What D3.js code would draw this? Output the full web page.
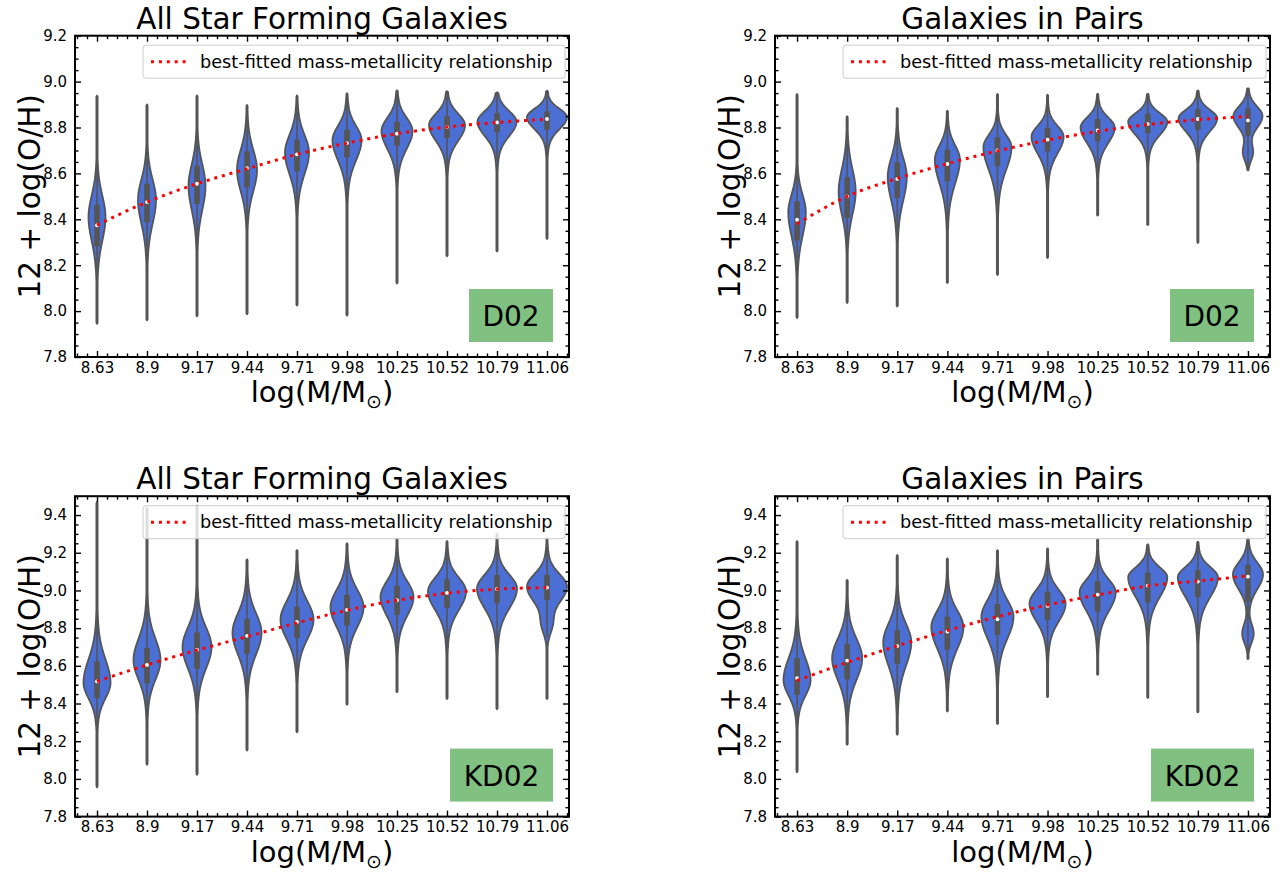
<!DOCTYPE html>
<html><head><meta charset="utf-8">
<script src="https://cdn.jsdelivr.net/npm/d3@7"></script>
<style>body{margin:0;background:#fff} text{font-family:"DejaVu Sans",sans-serif;fill:#000}</style>
</head><body><svg id="c" width="1284" height="875"></svg>
<script>
// ---------- data ----------
const categories = ["8.63","8.9","9.17","9.44","9.71","9.98","10.25","10.52","10.79","11.06"];
const yTicksD02 = [7.8,8.0,8.2,8.4,8.6,8.8,9.0,9.2];
const yTicksKD02 = [7.8,8.0,8.2,8.4,8.6,8.8,9.0,9.2,9.4];
const titles = ["All Star Forming Galaxies","Galaxies in Pairs","All Star Forming Galaxies","Galaxies in Pairs"];
const calibrations = ["D02","D02","KD02","KD02"];
const legendLabel = "best-fitted mass-metallicity relationship";

// Panel 1: D02, all star forming
const d02AllMin  = [7.945,7.96,7.977,7.986,8.024,7.98,8.12,8.239,8.26,8.314];
const d02AllMax  = [8.939,8.90,8.94,8.898,8.94,8.95,8.962,8.958,8.953,8.96];
const d02AllQ1   = [8.282,8.387,8.467,8.539,8.609,8.67,8.721,8.754,8.779,8.79];
const d02AllMed  = [8.374,8.475,8.555,8.623,8.683,8.732,8.773,8.802,8.822,8.837];
const d02AllQ3   = [8.464,8.555,8.634,8.696,8.747,8.79,8.824,8.849,8.863,8.87];
const d02AllPeak = [8.41,8.485,8.545,8.615,8.69,8.745,8.785,8.81,8.825,8.845];
const d02AllWid  = [0.17,0.18,0.17,0.2,0.24,0.29,0.31,0.36,0.39,0.4];
const d02AllSLo  = [0.1,0.1,0.1,0.09,0.09,0.085,0.075,0.065,0.06,0.05];
const d02AllSHi  = [0.09,0.085,0.09,0.085,0.075,0.06,0.055,0.048,0.045,0.035];
const d02AllFit  = [8.375,8.475,8.555,8.62,8.683,8.732,8.773,8.802,8.822,8.836];

// Panel 2: D02, pairs
const d02PairMin  = [7.97,8.035,8.02,8.122,8.157,8.231,8.416,8.375,8.297,8.613];
const d02PairMax  = [8.946,8.849,8.885,8.873,8.946,8.943,8.947,8.947,8.962,8.971];
const d02PairQ1   = [8.308,8.406,8.493,8.565,8.631,8.696,8.74,8.776,8.79,8.764];
const d02PairMed  = [8.398,8.5,8.576,8.641,8.7,8.747,8.787,8.815,8.837,8.831];
const d02PairQ3   = [8.478,8.583,8.648,8.703,8.757,8.798,8.837,8.86,8.88,8.883];
const d02PairPeak = [8.43,8.52,8.585,8.66,8.715,8.76,8.8,8.825,8.84,8.85];
const d02PairWid  = [0.175,0.17,0.19,0.25,0.28,0.32,0.34,0.39,0.385,0.29];
const d02PairSLo  = [0.1,0.095,0.1,0.1,0.095,0.07,0.065,0.055,0.055,0.05];
const d02PairSHi  = [0.075,0.095,0.08,0.06,0.05,0.045,0.042,0.036,0.036,0.04];
const d02PairPeak2 = [0,0,0,0,0,0,0,0,0,8.69];
const d02PairWid2  = [0,0,0,0,0,0,0,0,0,0.09];
const d02PairS2    = [0,0,0,0,0,0,0,0,0,0.035];
const d02PairFit  = [8.38,8.5,8.578,8.642,8.698,8.745,8.783,8.813,8.834,8.848];

// Panel 3: KD02, all star forming
const kd02AllMin  = [7.955,8.075,8.022,8.151,8.247,8.393,8.46,8.424,8.37,8.424];
const kd02AllMax  = [9.47,9.44,9.45,9.165,9.214,9.25,9.276,9.262,9.303,9.28];
const kd02AllQ1   = [8.429,8.508,8.584,8.664,8.747,8.814,8.87,8.909,8.932,8.95];
const kd02AllMed  = [8.517,8.605,8.685,8.759,8.833,8.897,8.948,8.987,9.008,9.015];
const kd02AllQ3   = [8.623,8.694,8.777,8.849,8.914,8.976,9.024,9.059,9.082,9.082];
const kd02AllPeak = [8.51,8.63,8.7,8.775,8.845,8.91,8.965,8.995,9.01,9.02];
const kd02AllWid  = [0.27,0.27,0.29,0.29,0.33,0.33,0.33,0.38,0.4,0.4];
const kd02AllSLo  = [0.08,0.1,0.11,0.11,0.1,0.1,0.095,0.095,0.1,0.08];
const kd02AllSHi  = [0.12,0.11,0.1,0.1,0.095,0.09,0.08,0.07,0.07,0.065];
const kd02AllPeak2 = [0,0,0,0,0,0,0,0,0,8.82];
const kd02AllWid2  = [0,0,0,0,0,0,0,0,0,0.08];
const kd02AllS2    = [0,0,0,0,0,0,0,0,0,0.05];
const kd02AllFit  = [8.517,8.605,8.683,8.755,8.828,8.895,8.948,8.985,9.007,9.015];

// Panel 4: KD02, pairs
const kd02PairMin  = [8.035,8.181,8.234,8.358,8.291,8.434,8.552,8.429,8.353,8.635];
const kd02PairMax  = [9.262,9.056,9.188,9.17,9.214,9.223,9.273,9.245,9.259,9.28];
const kd02PairQ1   = [8.446,8.529,8.611,8.685,8.764,8.844,8.888,8.936,8.964,8.941];
const kd02PairMed  = [8.535,8.628,8.705,8.782,8.847,8.918,8.978,9.026,9.047,9.073];
const kd02PairQ3   = [8.641,8.717,8.789,8.861,8.928,8.993,9.049,9.094,9.109,9.135];
const kd02PairPeak = [8.525,8.64,8.725,8.805,8.86,8.93,8.99,9.07,9.07,9.085];
const kd02PairWid  = [0.27,0.3,0.28,0.32,0.32,0.36,0.36,0.39,0.4,0.3];
const kd02PairSLo  = [0.08,0.11,0.12,0.11,0.11,0.09,0.095,0.1,0.1,0.075];
const kd02PairSHi  = [0.11,0.1,0.095,0.085,0.085,0.07,0.065,0.05,0.052,0.06];
const kd02PairPeak2 = [0,0,0,0,0,0,0,0,0,8.77];
const kd02PairWid2  = [0,0,0,0,0,0,0,0,0,0.11];
const kd02PairS2    = [0,0,0,0,0,0,0,0,0,0.05];
const kd02PairFit  = [8.522,8.618,8.706,8.787,8.861,8.923,8.976,9.024,9.05,9.077];

const zeros = categories.map(()=>0);

// ---------- build panels ----------
function violins(mn,mx,q1,md,q3,pk,wd,sl,sh,pk2,wd2,s2){
  return categories.map((c,i)=>({i,min:mn[i],max:mx[i],q1:q1[i],med:md[i],q3:q3[i],
    peak:pk[i],hw:wd[i],sLo:sl[i],sHi:sh[i],peak2:pk2[i],hw2:wd2[i],s2:s2[i]}));
}
const panels = [
  {left:75, top:35.7, right:569, bottom:357, ydom:[7.8,9.2], yt:yTicksD02, title:titles[0], cal:calibrations[0],
   v:violins(d02AllMin,d02AllMax,d02AllQ1,d02AllMed,d02AllQ3,d02AllPeak,d02AllWid,d02AllSLo,d02AllSHi,zeros,zeros,zeros), fit:d02AllFit},
  {left:775, top:35.7, right:1270, bottom:357, ydom:[7.8,9.2], yt:yTicksD02, title:titles[1], cal:calibrations[1],
   v:violins(d02PairMin,d02PairMax,d02PairQ1,d02PairMed,d02PairQ3,d02PairPeak,d02PairWid,d02PairSLo,d02PairSHi,d02PairPeak2,d02PairWid2,d02PairS2), fit:d02PairFit},
  {left:75, top:496.2, right:569, bottom:816.6, ydom:[7.8,9.5], yt:yTicksKD02, title:titles[2], cal:calibrations[2],
   v:violins(kd02AllMin,kd02AllMax,kd02AllQ1,kd02AllMed,kd02AllQ3,kd02AllPeak,kd02AllWid,kd02AllSLo,kd02AllSHi,kd02AllPeak2,kd02AllWid2,kd02AllS2), fit:kd02AllFit},
  {left:775, top:496.2, right:1270, bottom:816.6, ydom:[7.8,9.5], yt:yTicksKD02, title:titles[3], cal:calibrations[3],
   v:violins(kd02PairMin,kd02PairMax,kd02PairQ1,kd02PairMed,kd02PairQ3,kd02PairPeak,kd02PairWid,kd02PairSLo,kd02PairSHi,kd02PairPeak2,kd02PairWid2,kd02PairS2), fit:kd02PairFit}
];

const svg = d3.select("#c");
const FILL = "#4b6fd5", EDGE = "#555555";

function density(v, d){
  const s = v < d.peak ? d.sLo : d.sHi;
  const z = (v - d.peak)/s;
  let w = d.hw*(0.85*Math.exp(-0.5*z*z) + 0.15*Math.exp(-0.125*z*z));
  if (d.hw2 > 0){
    const z2 = (v - d.peak2)/d.s2;
    w += d.hw2*Math.exp(-0.5*z2*z2);
  }
  return w;
}

panels.forEach((p,pi)=>{
  const x = d3.scaleLinear().domain([-0.44, 9.44]).range([p.left, p.right]);
  const y = d3.scaleLinear().domain(p.ydom).range([p.bottom, p.top]);
  const unit = x(1)-x(0);
  const g = svg.append("g");
  const clipId = "clip"+pi;
  g.append("clipPath").attr("id",clipId).append("rect")
    .attr("x",p.left).attr("y",p.top).attr("width",p.right-p.left).attr("height",p.bottom-p.top);
  const plot = g.append("g").attr("clip-path",`url(#${clipId})`);

  // violins
  const area = d3.area().y(d=>y(d.v)).x0(d=>d.cx-d.w).x1(d=>d.cx+d.w);
  p.v.forEach(d=>{
    const cx = x(d.i);
    const N = 200;
    const pts = d3.range(N+1).map(k=>{
      const v = d.min + (d.max-d.min)*k/N;
      let w = density(v,d)*unit;
      if (k===0 || k===N) w = 0; else w = Math.max(w, 0.6);
      return {v, w, cx};
    });
    plot.append("path").attr("d", area(pts))
      .attr("fill",FILL).attr("stroke",EDGE).attr("stroke-width",1.8).attr("stroke-linejoin","round");
    // inner box
    const iqr = d.q3-d.q1;
    const wLo = Math.max(d.min, d.q1-1.5*iqr), wHi = Math.min(d.max, d.q3+1.5*iqr);
    plot.append("line").attr("x1",cx).attr("x2",cx).attr("y1",y(wLo)).attr("y2",y(wHi))
      .attr("stroke",EDGE).attr("stroke-width",1.6);
    plot.append("rect").attr("x",cx-2.8).attr("width",5.6).attr("y",y(d.q3)).attr("height",y(d.q1)-y(d.q3))
      .attr("fill",EDGE);
    plot.append("circle").attr("cx",cx).attr("cy",y(d.med)).attr("r",1.9).attr("fill","#fff");
  });

  // fit line
  const line = d3.line().x((v,i)=>x(i)).y(v=>y(v)).curve(d3.curveMonotoneX);
  plot.append("path").attr("d",line(p.fit)).attr("fill","none").attr("stroke","#ff0000")
    .attr("stroke-width",3).attr("stroke-dasharray","3,4.9");

  // axes (inward ticks, all four sides)
  const xMinor = d3.range(-2,48).map(k=>k*0.2).filter(v=>v>-0.44 && v<9.44 && Math.abs(v-Math.round(v))>1e-6);
  const yMinor = d3.range(0,40).map(k=>p.ydom[0]+k*0.05).filter(v=>v<=p.ydom[1]+1e-9 && !p.yt.some(t=>Math.abs(t-v)<1e-6));
  const major = 6, minor = 3.5;
  function styleAx(sel){ sel.select(".domain").remove(); sel.selectAll(".tick line").attr("stroke","#000").attr("stroke-width",1.4); }

  const xb = g.append("g").attr("transform",`translate(0,${p.bottom})`)
    .call(d3.axisBottom(x).tickValues(d3.range(categories.length)).tickFormat(i=>categories[i]).tickSize(-major).tickPadding(5));
  styleAx(xb); xb.selectAll("text").attr("font-size",15).attr("font-family","DejaVu Sans");
  g.append("g").attr("transform",`translate(0,${p.bottom})`).call(d3.axisBottom(x).tickValues(xMinor).tickFormat("").tickSize(-minor)).call(styleAx);
  g.append("g").attr("transform",`translate(0,${p.top})`).call(d3.axisTop(x).tickValues(d3.range(categories.length)).tickFormat("").tickSize(-major)).call(styleAx);
  g.append("g").attr("transform",`translate(0,${p.top})`).call(d3.axisTop(x).tickValues(xMinor).tickFormat("").tickSize(-minor)).call(styleAx);

  const yl = g.append("g").attr("transform",`translate(${p.left},0)`)
    .call(d3.axisLeft(y).tickValues(p.yt).tickFormat(d3.format(".1f")).tickSize(-major).tickPadding(8));
  styleAx(yl); yl.selectAll("text").attr("font-size",15).attr("font-family","DejaVu Sans");
  g.append("g").attr("transform",`translate(${p.left},0)`).call(d3.axisLeft(y).tickValues(yMinor).tickFormat("").tickSize(-minor)).call(styleAx);
  g.append("g").attr("transform",`translate(${p.right},0)`).call(d3.axisRight(y).tickValues(p.yt).tickFormat("").tickSize(-major)).call(styleAx);
  g.append("g").attr("transform",`translate(${p.right},0)`).call(d3.axisRight(y).tickValues(yMinor).tickFormat("").tickSize(-minor)).call(styleAx);

  // legend
  const lx = p.left+68, ly = p.top+9.5, lw = p.right-4-lx, lh = 33;
  g.append("rect").attr("x",lx).attr("y",ly).attr("width",lw).attr("height",lh).attr("rx",3)
    .attr("fill","#fff").attr("fill-opacity",0.8).attr("stroke","#cccccc").attr("stroke-width",1);
  g.append("line").attr("x1",lx+8).attr("x2",lx+46).attr("y1",ly+lh/2).attr("y2",ly+lh/2)
    .attr("stroke","#ff0000").attr("stroke-width",3).attr("stroke-dasharray","3,4.9");
  g.append("text").attr("x",lx+57).attr("y",ly+lh/2+6).attr("font-size",17.7).text(legendLabel);

  // calibration box
  const bw = p.cal.length===3 ? 84 : 103;
  const bx = p.right-16-bw, by = p.bottom-68;
  g.append("rect").attr("x",bx).attr("y",by).attr("width",bw).attr("height",53).attr("fill","#80c080");
  g.append("text").attr("font-size",28).attr("text-anchor","middle").attr("x",bx+bw/2).attr("y",by+37).text(p.cal);

  // spines
  g.append("rect").attr("x",p.left).attr("y",p.top).attr("width",p.right-p.left).attr("height",p.bottom-p.top)
    .attr("fill","none").attr("stroke","#000").attr("stroke-width",2);

  // title & labels
  const cxm = (p.left+p.right)/2;
  g.append("text").attr("x",cxm).attr("y",p.top-7).attr("text-anchor","middle").attr("font-size",29.5).text(p.title);
  const xl = g.append("text").attr("x",cxm).attr("y",p.bottom+45).attr("text-anchor","middle").attr("font-size",29);
  xl.append("tspan").text("log(M/M");
  xl.append("tspan").attr("font-size",19).attr("dy",6).text("\u2299");
  xl.append("tspan").attr("dy",-6).text(")");
  g.append("text").attr("transform",`translate(${p.left-35},${(p.top+p.bottom)/2}) rotate(-90)`)
    .attr("text-anchor","middle").attr("font-size",29.5).text("12 + log(O/H)");
});
</script></body></html>
